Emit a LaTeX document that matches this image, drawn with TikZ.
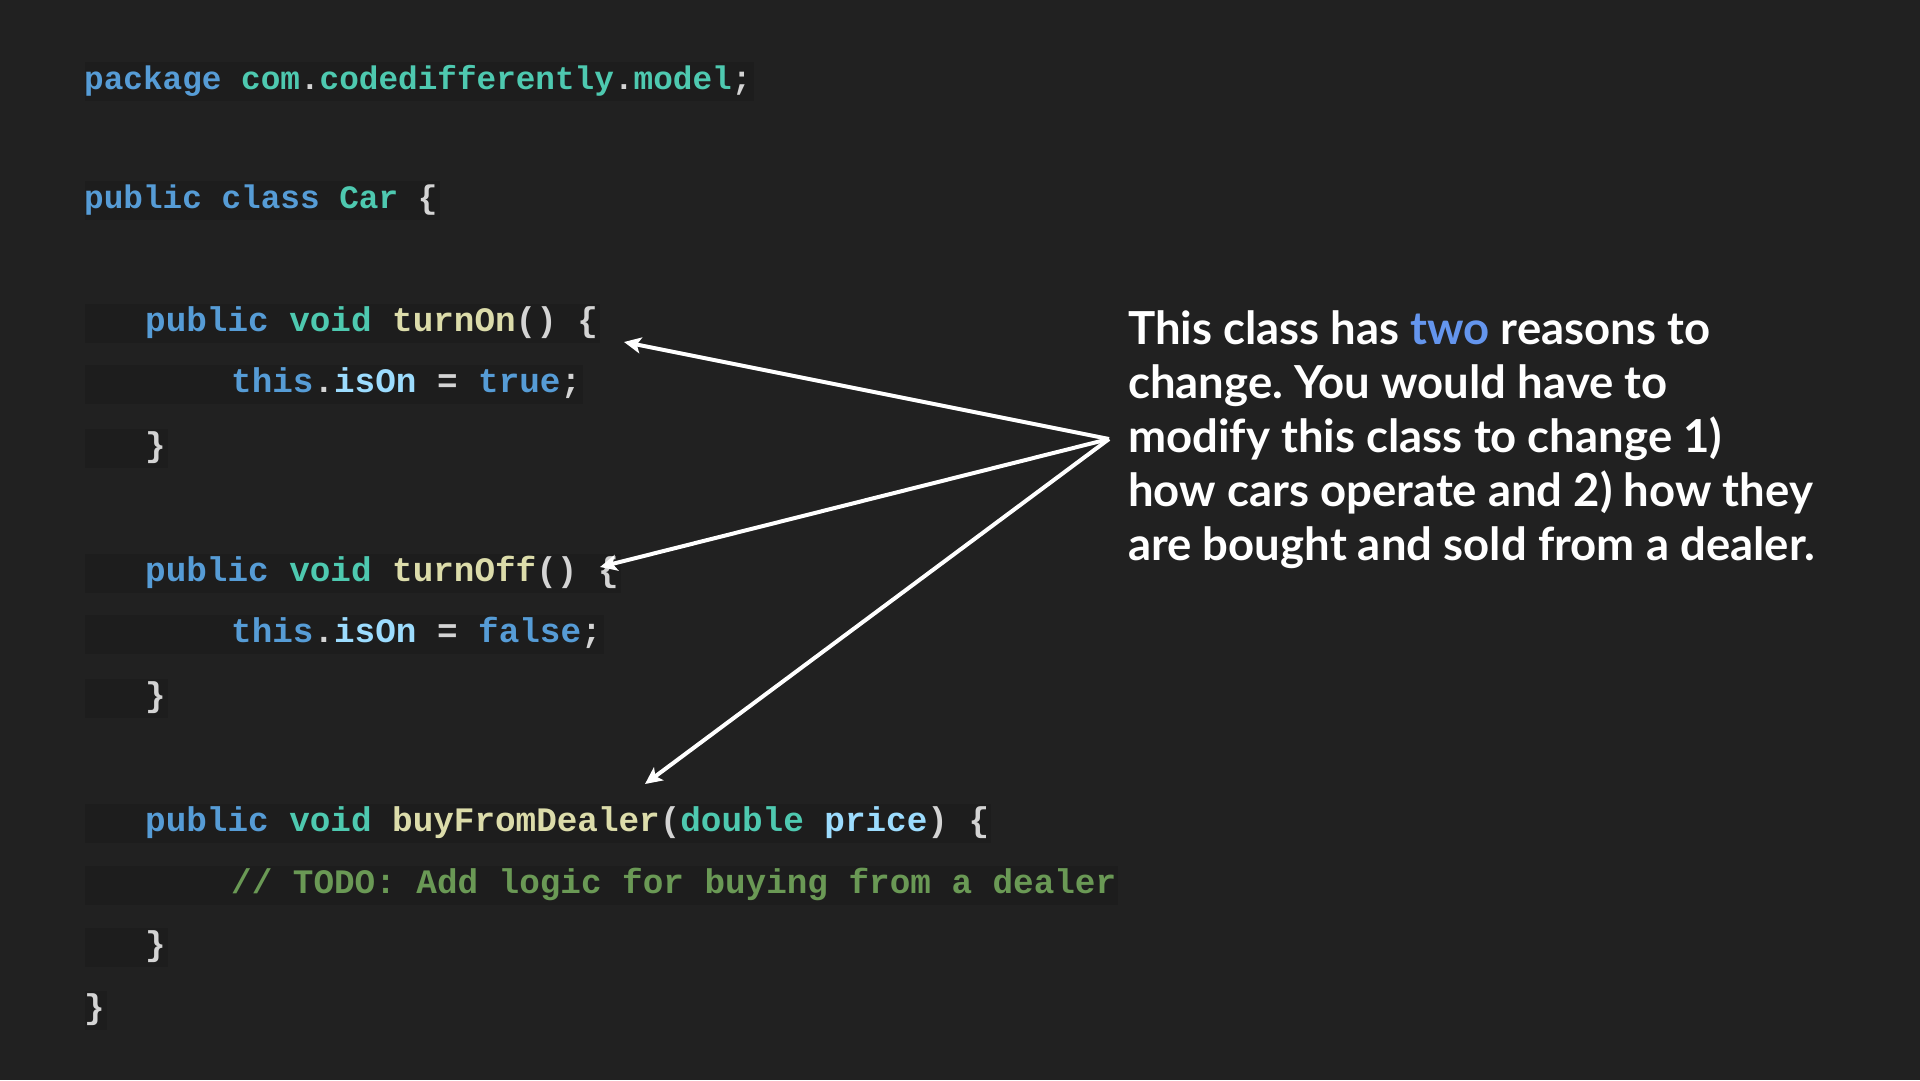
\documentclass[tikz,border=0pt]{standalone}
\usepackage{fontspec}
\usetikzlibrary{arrows.meta}
\newfontfamily\codefont{Liberation Mono}
\newfontfamily\latofont{Lato}
\definecolor{bgc}{HTML}{212121}
\definecolor{hlc}{HTML}{1D1D1D}
\definecolor{kw}{HTML}{569CD6}
\definecolor{ty}{HTML}{4EC9B0}
\definecolor{fn}{HTML}{DCDCAA}
\definecolor{vr}{HTML}{9CDCFE}
\definecolor{cm}{HTML}{6A9955}
\definecolor{pn}{HTML}{D4D4D4}
\definecolor{hi}{HTML}{6495ED}
\pgfdeclarelayer{background}
\pgfsetlayers{background,main}
\frenchspacing
\tikzset{
  codeA/.style={inner sep=0pt, anchor=base west, font=\codefont\bfseries\fontsize{32.7}{40}\selectfont},
  codeB/.style={inner sep=0pt, anchor=base west, font=\codefont\bfseries\fontsize{34.3}{40}\selectfont},
  hl/.style={fill=hlc},
  note/.style={inner sep=0pt, anchor=base west, align=left, text=white, font=\latofont\bfseries\fontsize{45.5}{54}\selectfont},
  pointer/.style={draw=white, line width=4pt, -{Stealth[length=17pt,width=16pt,inset=4pt]}}
}
\newcommand\codeline[5]{%
  \node[#1] (#4) at (#2,#3) {#5};
  \path (#4.base east) ++(2,12) coordinate (#4e);
  \begin{pgfonlayer}{background}\fill[hl] (85,#3-27) rectangle (#4e);\end{pgfonlayer}%
}
\begin{document}
\begin{tikzpicture}[x=1pt,y=-1pt]
\begin{pgfonlayer}{background}
\fill[bgc] (0,0) rectangle (1920,1080);
\end{pgfonlayer}
\useasboundingbox (0,0) rectangle (1920,1080);
\codeline{codeA}{84}{89}{l1}{\textcolor{kw}{package} \textcolor{ty}{com}\textcolor{pn}{.}\textcolor{ty}{codedifferently}\textcolor{pn}{.}\textcolor{ty}{model}\textcolor{pn}{;}}
\codeline{codeA}{84}{208}{l2}{\textcolor{kw}{public} \textcolor{kw}{class} \textcolor{ty}{Car} \textcolor{pn}{\{}}
\codeline{codeB}{145}{331}{l3}{\textcolor{kw}{public} \textcolor{ty}{void} \textcolor{fn}{turnOn}\textcolor{pn}{()} \textcolor{pn}{\{}}
\codeline{codeB}{231}{392}{l4}{\textcolor{kw}{this}\textcolor{pn}{.}\textcolor{vr}{isOn} \textcolor{pn}{=} \textcolor{kw}{true}\textcolor{pn}{;}}
\codeline{codeB}{145}{456}{l5}{\textcolor{pn}{\}}}
\codeline{codeB}{145}{581}{l6}{\textcolor{kw}{public} \textcolor{ty}{void} \textcolor{fn}{turnOff}\textcolor{pn}{()} \textcolor{pn}{\{}}
\codeline{codeB}{231}{642}{l7}{\textcolor{kw}{this}\textcolor{pn}{.}\textcolor{vr}{isOn} \textcolor{pn}{=} \textcolor{kw}{false}\textcolor{pn}{;}}
\codeline{codeB}{145}{706}{l8}{\textcolor{pn}{\}}}
\codeline{codeB}{145}{831}{l9}{\textcolor{kw}{public} \textcolor{ty}{void} \textcolor{fn}{buyFromDealer}\textcolor{pn}{(}\textcolor{ty}{double} \textcolor{vr}{price}\textcolor{pn}{)} \textcolor{pn}{\{}}
\codeline{codeB}{231}{893}{l10}{\textcolor{cm}{// TODO: Add logic for buying from a dealer}}
\codeline{codeB}{145}{955}{l11}{\textcolor{pn}{\}}}
\codeline{codeB}{84}{1018}{l12}{\textcolor{pn}{\}}}
\node[note] (txt) at (1128,560) {This class has \textcolor{hi}{two} reasons to\\change. You would have to\\modify this class to change 1)\\how cars operate and 2) how they\\are bought and sold from a dealer.};
\coordinate (src) at (1109,439);
\coordinate (t1) at (624,342);
\coordinate (t2) at (600,567);
\coordinate (t3) at (645,784);
\draw[pointer] (src) -- (t1);
\draw[pointer] (src) -- (t2);
\draw[pointer] (src) -- (t3);
\end{tikzpicture}
\end{document}
